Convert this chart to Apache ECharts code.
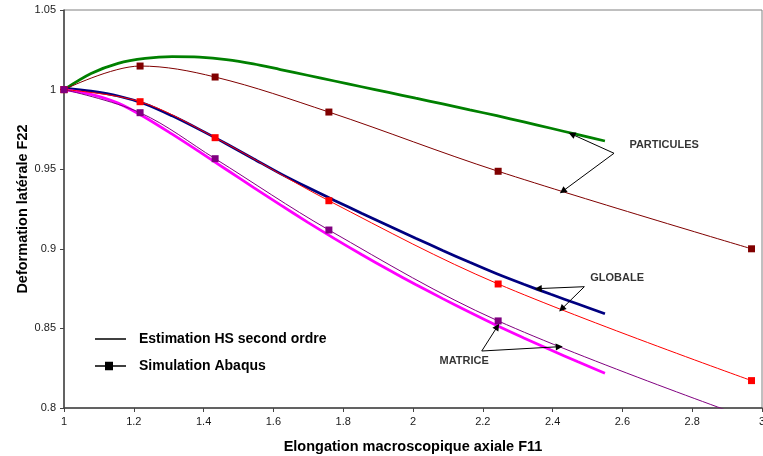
<!DOCTYPE html>
<html>
<head>
<meta charset="utf-8">
<script src="https://cdn.jsdelivr.net/npm/echarts@6/dist/echarts.min.js"></script>
<style>
  html, body { margin: 0; padding: 0; background: #fff; }
  #chart { width: 763px; height: 456px; }
</style>
</head>
<body>
<div id="chart"></div>
<script>
const FONT = 'Arial, "Liberation Sans", Helvetica, sans-serif';

// Abaqus simulation points (same F11 stations for the three phases)
const simX = [1, 1.218, 1.433, 1.759, 2.244, 2.970];
const simParticules = [1, 1.0148, 1.0079, 0.9859, 0.9487, 0.9000];
const simGlobale    = [1, 0.9924, 0.9698, 0.9302, 0.8779, 0.8172];
const simMatrice    = [1, 0.9855, 0.9566, 0.9118, 0.8547, 0.7929];

// Second-order HS estimate, sampled along F11 (step 0.0775)
const hsX = [1, 1.0775, 1.155, 1.2325, 1.31, 1.3875, 1.465, 1.5425, 1.62, 1.6975, 1.775,
             1.8525, 1.93, 2.0075, 2.085, 2.1625, 2.24, 2.3175, 2.395, 2.4725, 2.55];
const hsParticules = [1.0, 1.0101, 1.0165, 1.0196, 1.0207, 1.0204, 1.0189, 1.0162, 1.0126, 1.0090, 1.0054,
                      1.0018, 0.9982, 0.9946, 0.9910, 0.9873, 0.9836, 0.9797, 0.9757, 0.9717, 0.9677];
const hsGlobale    = [1.001, 0.9990, 0.9960, 0.9910, 0.9835, 0.9750, 0.9660, 0.9566, 0.9472, 0.9386, 0.9304,
                      0.9224, 0.9145, 0.9067, 0.8990, 0.8915, 0.8843, 0.8777, 0.8714, 0.8653, 0.8592];
const hsMatrice    = [1.0, 0.9970, 0.9915, 0.9825, 0.9720, 0.9610, 0.9498, 0.9386, 0.9276, 0.9168, 0.9064,
                      0.8964, 0.8868, 0.8776, 0.8687, 0.8601, 0.8518, 0.8440, 0.8364, 0.8290, 0.8218];

// Axis ranges
const xRange = [1, 3, 0.2];
const yRange = [0.8, 1.05, 0.05];

// Phase annotations: label anchor and arrows (start -> tip), in data units
const noteLabels = ['PARTICULES', 'GLOBALE', 'MATRICE'];
const notePos = [[2.620, 0.9652], [2.508, 0.8815], [2.076, 0.8297]];
const noteArrows = [
  [[2.576, 0.9600], [2.455, 0.9720]],
  [[2.576, 0.9600], [2.429, 0.9362]],
  [[2.491, 0.8762], [2.359, 0.8750]],
  [[2.491, 0.8762], [2.426, 0.8622]],
  [[2.197, 0.8358], [2.2415, 0.8511]],
  [[2.197, 0.8358], [2.419, 0.8385]]
];

const HS_NAME = 'Estimation HS second ordre';
const SIM_NAME = 'Simulation Abaqus';

const zip = (xs, ys) => xs.map((x, i) => [x, ys[i]]);

function hsSeries(values, color) {
  return {
    name: HS_NAME, type: 'line', data: zip(hsX, values),
    symbol: 'none', smooth: 0.3, lineStyle: { color: color, width: 2.75 },
    itemStyle: { color: color }, silent: true, z: 2
  };
}
function simSeries(values, color) {
  return {
    name: SIM_NAME, type: 'line', data: zip(simX, values),
    symbol: 'rect', symbolSize: 7, showAllSymbol: true, smooth: 0.35,
    lineStyle: { color: color, width: 1 }, itemStyle: { color: color },
    silent: true, z: 3
  };
}

const axisLabelStyle = {
  fontFamily: FONT, fontSize: 11, color: '#1a1a1a', margin: 8,
  formatter: v => String(Math.round(v * 100) / 100)
};
const axisNameStyle = { fontFamily: FONT, fontSize: 14.5, fontWeight: 'bold', color: '#000' };

const chart = echarts.init(document.getElementById('chart'), null, { renderer: 'canvas' });

chart.setOption({
  animation: false,
  backgroundColor: '#fff',
  grid: {
    left: 64, right: 1, top: 10, bottom: 48,
    containLabel: false, outerBoundsMode: 'none',
    show: true, borderColor: '#808080', borderWidth: 1
  },
  xAxis: {
    type: 'value', min: xRange[0], max: xRange[1], interval: xRange[2],
    name: 'Elongation macroscopique axiale F11', nameLocation: 'middle', nameGap: 31,
    nameMoveOverlap: false, nameTextStyle: axisNameStyle,
    axisLine: { lineStyle: { color: '#444', width: 1.5 } },
    axisTick: { show: true, length: 4, lineStyle: { color: '#444' } },
    axisLabel: axisLabelStyle,
    splitLine: { show: false }
  },
  yAxis: {
    type: 'value', min: yRange[0], max: yRange[1], interval: yRange[2],
    name: 'Deformation latérale F22', nameLocation: 'middle', nameGap: 34, nameRotate: 90,
    nameMoveOverlap: false, nameTextStyle: axisNameStyle,
    axisLine: { lineStyle: { color: '#444', width: 1.5 } },
    axisTick: { show: true, length: 4, lineStyle: { color: '#444' } },
    axisLabel: axisLabelStyle,
    splitLine: { show: false }
  },
  legend: {
    left: 95, top: 331, padding: 0, orient: 'vertical', itemGap: 11, itemWidth: 31, itemHeight: 10,
    selectedMode: false,
    textStyle: { fontFamily: FONT, fontSize: 14, fontWeight: 'bold', color: '#000', lineHeight: 16, padding: [0, 0, 0, 8] },
    data: [
      { name: HS_NAME, icon: 'path://M0,4H31V5.5H0Z', itemStyle: { color: '#000', borderWidth: 0 } },
      { name: SIM_NAME, icon: 'path://M0,3.5H10V0H18V3.5H31V5H18V8.5H10V5H0Z', itemStyle: { color: '#000', borderWidth: 0 } }
    ]
  },
  series: [
    hsSeries(hsParticules, '#008000'),
    hsSeries(hsGlobale, '#000080'),
    hsSeries(hsMatrice, '#FF00FF'),
    simSeries(simParticules, '#800000'),
    simSeries(simGlobale, '#FF0000'),
    simSeries(simMatrice, '#800080'),
    {
      name: 'annotations', type: 'scatter', symbolSize: 0, silent: true, z: 5,
      data: notePos.map((p, i) => ({ value: p, name: noteLabels[i] })),
      label: { show: true, position: 'right', distance: 0, formatter: p => p.name,
        fontFamily: FONT, fontSize: 11, fontWeight: 'bold', color: '#000' },
      markLine: {
        silent: true, animation: false,
        symbol: ['none', 'triangle'], symbolSize: 7,
        label: { show: false },
        lineStyle: { color: '#000', width: 1, type: 'solid' },
        itemStyle: { color: '#000' },
        emphasis: { disabled: true },
        data: noteArrows.map(a => [{ coord: a[0] }, { coord: a[1] }])
      }
    }
  ]
});
</script>
</body>
</html>
